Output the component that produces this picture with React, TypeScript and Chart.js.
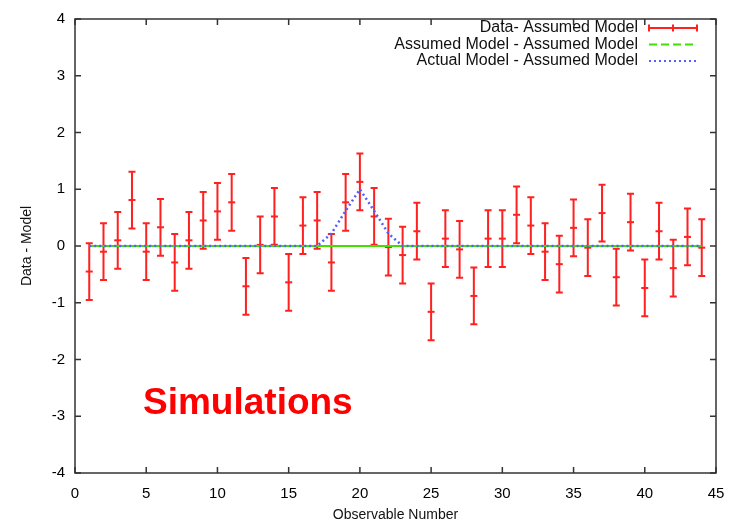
import React, { useEffect, useRef } from "react";
import { Chart, registerables } from "chart.js";

Chart.register(...registerables);

const observables = [1, 2, 3, 4, 5, 6, 7, 8, 9, 10, 11, 12, 13, 14, 15, 16, 17, 18, 19, 20, 21, 22, 23, 24, 25, 26, 27, 28, 29, 30, 31, 32, 33, 34, 35, 36, 37, 38, 39, 40, 41, 42, 43, 44];
const dataMinusAssumed = [-0.45, -0.1, 0.1, 0.81, -0.1, 0.33, -0.29, 0.1, 0.45, 0.61, 0.77, -0.71, 0.02, 0.52, -0.64, 0.36, 0.45, -0.29, 0.77, 1.13, 0.52, -0.02, -0.16, 0.26, -1.16, 0.13, -0.06, -0.88, 0.13, 0.13, 0.55, 0.36, -0.1, -0.32, 0.32, -0.03, 0.58, -0.55, 0.42, -0.74, 0.26, -0.39, 0.16, -0.03];
const dataErrors = [0.5, 0.5, 0.5, 0.5, 0.5, 0.5, 0.5, 0.5, 0.5, 0.5, 0.5, 0.5, 0.5, 0.5, 0.5, 0.5, 0.5, 0.5, 0.5, 0.5, 0.5, 0.5, 0.5, 0.5, 0.5, 0.5, 0.5, 0.5, 0.5, 0.5, 0.5, 0.5, 0.5, 0.5, 0.5, 0.5, 0.5, 0.5, 0.5, 0.5, 0.5, 0.5, 0.5, 0.5];
const assumedMinusAssumed = [0, 0, 0, 0, 0, 0, 0, 0, 0, 0, 0, 0, 0, 0, 0, 0, 0, 0, 0, 0, 0, 0, 0, 0, 0, 0, 0, 0, 0, 0, 0, 0, 0, 0, 0, 0, 0, 0, 0, 0, 0, 0, 0, 0];
const actualMinusAssumed = [0, 0, 0, 0, 0, 0, 0, 0, 0, 0, 0, 0, 0, 0, 0, 0, 0, 0.22, 0.62, 1.0, 0.62, 0.22, 0, 0, 0, 0, 0, 0, 0, 0, 0, 0, 0, 0, 0, 0, 0, 0, 0, 0, 0, 0, 0, 0];

const seriesLabels = ["Data- Assumed Model", "Assumed Model - Assumed Model", "Actual Model - Assumed Model"];
const xTitle = "Observable Number";
const yTitle = "Data - Model";
const annotationText = "Simulations";

const RED = "#ff2020";
const GREEN = "#40e000";
const BLUE = "#5060ff";
const FONT = "'Liberation Sans', Arial, sans-serif";

const errorBarPlugin = {
  id: "errorBars",
  beforeDatasetsDraw(chart: any) {
    const { ctx, scales } = chart;
    const xs = scales.x;
    const ys = scales.y;
    ctx.save();
    ctx.strokeStyle = RED;
    ctx.lineWidth = 2;
    const cap = 3.5;
    observables.forEach((o, i) => {
      const px = xs.getPixelForValue(o);
      const lo = ys.getPixelForValue(dataMinusAssumed[i] - dataErrors[i]);
      const hi = ys.getPixelForValue(dataMinusAssumed[i] + dataErrors[i]);
      ctx.beginPath();
      ctx.moveTo(px, lo);
      ctx.lineTo(px, hi);
      ctx.moveTo(px - cap, lo);
      ctx.lineTo(px + cap, lo);
      ctx.moveTo(px - cap, hi);
      ctx.lineTo(px + cap, hi);
      ctx.stroke();
    });
    ctx.restore();
  },
};

const framePlugin = {
  id: "frame",
  afterDraw(chart: any) {
    const { ctx, chartArea, scales } = chart;
    const { left, right, top, bottom } = chartArea;
    ctx.save();
    ctx.strokeStyle = "#333";
    ctx.lineWidth = 1.5;
    ctx.strokeRect(left, top, right - left, bottom - top);
    const tl = 6;
    ctx.beginPath();
    scales.y.ticks.forEach((t: any) => {
      const py = scales.y.getPixelForValue(t.value);
      ctx.moveTo(left, py);
      ctx.lineTo(left + tl, py);
      ctx.moveTo(right, py);
      ctx.lineTo(right - tl, py);
    });
    scales.x.ticks.forEach((t: any) => {
      const px = scales.x.getPixelForValue(t.value);
      ctx.moveTo(px, bottom);
      ctx.lineTo(px, bottom - tl);
      ctx.moveTo(px, top);
      ctx.lineTo(px, top + tl);
    });
    ctx.stroke();

    // legend
    ctx.font = `16px ${FONT}`;
    ctx.fillStyle = "#111";
    ctx.textAlign = "right";
    ctx.textBaseline = "middle";
    const rows = [28, 44.5, 61];
    const textRight = 638;
    const s0 = 649;
    const s1 = 697;
    seriesLabels.forEach((lab, i) => {
      ctx.fillText(lab, textRight, rows[i]);
    });
    ctx.strokeStyle = RED;
    ctx.lineWidth = 2;
    ctx.beginPath();
    ctx.moveTo(s0, rows[0]);
    ctx.lineTo(s1, rows[0]);
    [s0, (s0 + s1) / 2, s1].forEach((sx) => {
      ctx.moveTo(sx, rows[0] - 3.5);
      ctx.lineTo(sx, rows[0] + 3.5);
    });
    ctx.stroke();
    ctx.strokeStyle = GREEN;
    ctx.setLineDash([8, 4]);
    ctx.beginPath();
    ctx.moveTo(s0, rows[1]);
    ctx.lineTo(s1, rows[1]);
    ctx.stroke();
    ctx.strokeStyle = BLUE;
    ctx.lineWidth = 2;
    ctx.setLineDash([2, 3]);
    ctx.beginPath();
    ctx.moveTo(s0, rows[2]);
    ctx.lineTo(s1, rows[2]);
    ctx.stroke();
    ctx.setLineDash([]);

    // annotation
    ctx.font = `bold 37px ${FONT}`;
    ctx.fillStyle = "#ff0000";
    ctx.textAlign = "left";
    ctx.textBaseline = "alphabetic";
    ctx.fillText(annotationText, 143, 414);
    ctx.restore();
  },
};

export default function App() {
  const ref = useRef<HTMLCanvasElement>(null);
  useEffect(() => {
    if (!ref.current) return;
    const chart = new Chart(ref.current, {
      type: "scatter",
      data: {
        datasets: [
          {
            label: seriesLabels[0],
            data: observables.map((o, i) => ({ x: o, y: dataMinusAssumed[i] })),
            showLine: false,
            pointStyle: "line",
            pointRadius: 3.5,
            borderColor: RED,
            backgroundColor: RED,
            borderWidth: 2,
            order: 3,
          },
          {
            label: seriesLabels[1],
            data: observables.map((o, i) => ({ x: o, y: assumedMinusAssumed[i] })),
            showLine: true,
            pointRadius: 0,
            borderColor: GREEN,
            backgroundColor: GREEN,
            borderWidth: 2,
            order: 2,
          },
          {
            label: seriesLabels[2],
            data: observables.map((o, i) => ({ x: o, y: actualMinusAssumed[i] })),
            showLine: true,
            pointRadius: 0,
            borderColor: BLUE,
            backgroundColor: BLUE,
            borderWidth: 2.5,
            borderDash: [2, 3],
            order: 1,
          },
        ],
      },
      options: {
        animation: false,
        responsive: false,
        maintainAspectRatio: false,
        layout: { padding: { top: 13, right: 24, left: 0, bottom: 0 } },
        plugins: { legend: { display: false }, tooltip: { enabled: false } },
        scales: {
          x: {
            type: "linear",
            min: 0,
            max: 45,
            ticks: { stepSize: 5, color: "#000", font: { family: FONT, size: 15 }, padding: 12, maxRotation: 0 },
            grid: { display: false, drawTicks: false },
            border: { display: false },
            title: { display: true, text: xTitle, color: "#111", font: { family: FONT, size: 14 }, padding: { top: 0, bottom: 2 } },
            afterFit: (s: any) => { s.height = 53; },
          },
          y: {
            min: -4,
            max: 4,
            ticks: { stepSize: 1, color: "#000", font: { family: FONT, size: 15 }, padding: 10 },
            grid: { display: false, drawTicks: false },
            border: { display: false },
            title: { display: true, text: yTitle, color: "#111", font: { family: FONT, size: 14 }, padding: { top: 19, bottom: 0 } },
            afterFit: (s: any) => { s.width = 75; },
          },
        },
      },
      plugins: [errorBarPlugin, framePlugin],
    });
    return () => chart.destroy();
  }, []);
  return (
    <div style={{ position: "fixed", left: 0, top: 0, width: 740, height: 526, background: "#fff" }}>
      <canvas ref={ref} width={740} height={526} style={{ display: "block", width: 740, height: 526 }} />
    </div>
  );
}
